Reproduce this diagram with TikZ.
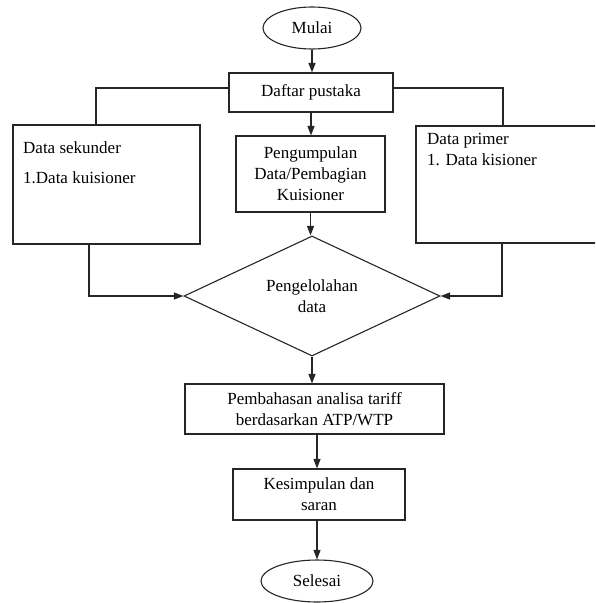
\documentclass[tikz,border=0pt]{standalone}
\usepackage{fontspec}
\setmainfont{Liberation Serif}
\usepackage{tikz}
\usetikzlibrary{calc,shapes.geometric,arrows.meta}

\tikzset{
  >={Triangle[length=9.5pt,width=7pt]},
  garis/.style={line width=1.1pt, draw=black!85},
  kotak/.style={garis, rectangle, inner sep=0pt, align=center},
  oval/.style={garis, ellipse, inner sep=0pt},
  belah/.style={garis, diamond, shape aspect=2, inner sep=0pt, align=center},
  teks/.style={inner sep=0pt, align=left, anchor=north west}
}

\begin{document}
\begin{tikzpicture}[x=1pt, y=-1pt, font=\fontsize{17}{21}\selectfont]
    \clip (0,0) rectangle (595,603);
    \node (mulai) at (312,28) [oval, minimum width=98, minimum height=42] {Mulai};
    \node (daftar) at (311,92.5) [kotak, minimum width=164, minimum height=39] {Daftar pustaka};
    \node (sekunder) at (106.5,184.5) [kotak, minimum width=187, minimum height=119] {};
    \node (sekunderteks) at (23,142) [teks] {Data sekunder\\[9pt]1.Data kuisioner};
    \node (kumpul) at (310.5,174) [kotak, minimum width=149, minimum height=76] {Pengumpulan\\Data/Pembagian\\Kuisioner};
    \node (primer) at (507,184.5) [kotak, minimum width=182, minimum height=117] {};
    \node (primerteks) at (427,133) [teks] {Data primer\\1. Data kisioner};
    \node (olah) at (312,296) [belah, minimum width=256, minimum height=120] {Pengelolahan\\data};
    \node (bahas) at (314.5,409) [kotak, minimum width=259, minimum height=50] {Pembahasan analisa tariff\\berdasarkan ATP/WTP};
    \node (simpul) at (319,494.5) [kotak, minimum width=172, minimum height=51] {Kesimpulan dan\\saran};
    \node (selesai) at (317,581) [oval, minimum width=112, minimum height=42] {Selesai};

    \draw [garis,->] (mulai.south) -- (mulai.south |- daftar.north);
    \draw [garis] ([yshift=4.5pt]daftar.west) -| ([xshift=-10.5pt]sekunder.north);
    \draw [garis] ([yshift=4.5pt]daftar.east) -| ([xshift=-4pt]primer.north);
    \draw [garis,->] (daftar.south) -- (daftar.south |- kumpul.north);
    \draw [garis,->] (kumpul.south) -- (kumpul.south |- olah.north);
    \draw [garis,->] ([xshift=-17.5pt]sekunder.south) |- (olah.west);
    \draw [garis,->] ([xshift=-5pt]primer.south) |- (olah.east);
    \draw [garis,->] (olah.south) -- (olah.south |- bahas.north);
    \draw [garis,->] (bahas.south -| selesai.north) -- (simpul.north -| selesai.north);
    \draw [garis,->] (simpul.south -| selesai.north) -- (selesai.north);
\end{tikzpicture}
\end{document}
